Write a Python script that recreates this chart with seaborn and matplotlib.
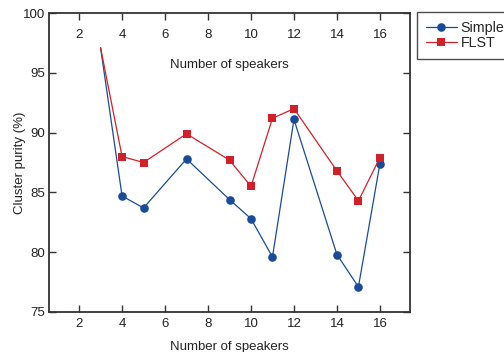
import matplotlib
matplotlib.use("Agg")
import matplotlib.pyplot as plt
import matplotlib.transforms as mtrans
import seaborn as sns
import pandas as pd

speakers = [3, 4, 5, 7, 9, 10, 11, 12, 14, 15, 16]
simple = [97.1, 84.7, 83.7, 87.8, 84.4, 82.8, 79.6, 91.1, 79.8, 77.1, 87.4]
flst = [97.1, 88.0, 87.5, 89.9, 87.7, 85.5, 91.2, 92.0, 86.8, 84.3, 87.9]
series = ["Simple", "FLST"]
xticks = [2, 4, 6, 8, 10, 12, 14, 16]
yticks = [75, 80, 85, 90, 95, 100]

df = pd.DataFrame({
    "x": speakers * 2,
    "y": simple + flst,
    "method": [series[0]] * len(speakers) + [series[1]] * len(speakers),
})

sns.set_style("ticks")
plt.rcParams["font.family"] = ["Liberation Sans", "DejaVu Sans"]
FS = 9.5

fig = plt.figure(figsize=(5.04, 3.52), dpi=100)
ax = fig.add_axes([49 / 504, 1 - 312 / 352, (410 - 49) / 504, (312 - 13) / 352])

palette = {"Simple": "#1a4b98", "FLST": "#d2202a"}
sns.lineplot(data=df, x="x", y="y", hue="method", style="method",
             markers={"Simple": "o", "FLST": "s"}, dashes=False,
             palette=palette, linewidth=0.9, markersize=6.2,
             markeredgewidth=0, ax=ax)
for ln in ax.lines[:2]:
    ln.set_markevery(slice(1, None))

ax.set_xlim(0.6, 17.4)
ax.set_ylim(75, 100)
ax.set_xticks(xticks)
ax.set_yticks(yticks)
ax.tick_params(direction="in", length=5, width=1, colors="#333333",
               labelcolor="#222222", labelsize=FS)
ax.xaxis.set_ticks_position("both")
ax.tick_params(axis="x", top=True, labeltop=True, pad=4)
ax.tick_params(axis="y", right=True, labelright=False, pad=3)

# top tick labels drawn inside the plot area
offset = mtrans.ScaledTranslation(0, -34 / 100, fig.dpi_scale_trans)
for t in ax.xaxis.get_major_ticks():
    t.label2.set_transform(t.label2.get_transform() + offset)

ax.set_xlabel("Number of speakers", color="#222222", fontsize=FS)
ax.xaxis.set_label_coords(0.5, -(347 - 312) / 299)
ax.xaxis.label.set_verticalalignment("center")
ax.set_ylabel("Cluster purity (%)", color="#222222", fontsize=FS)
ax.yaxis.set_label_coords(-(49 - 26) / 361, 0.5)
ax.text(0.5, 0.826, "Number of speakers", transform=ax.transAxes,
        ha="center", va="center", fontsize=FS, color="#222222")

for s in ax.spines.values():
    s.set_color("#333333")
    s.set_linewidth(1.3)
    s.set_visible(True)

sns.move_legend(ax, loc="upper left", bbox_to_anchor=(417 / 504, 1 - 12 / 352),
                bbox_transform=fig.transFigure, title=None, frameon=True,
                fancybox=False, edgecolor="#222222", fontsize=10.3,
                handlelength=2.2, borderaxespad=0, borderpad=0.6,
                handletextpad=0.25, labelspacing=0.1)
leg = ax.get_legend()
leg.get_frame().set_linewidth(1.0)

fig.savefig("out.png", dpi=100)
